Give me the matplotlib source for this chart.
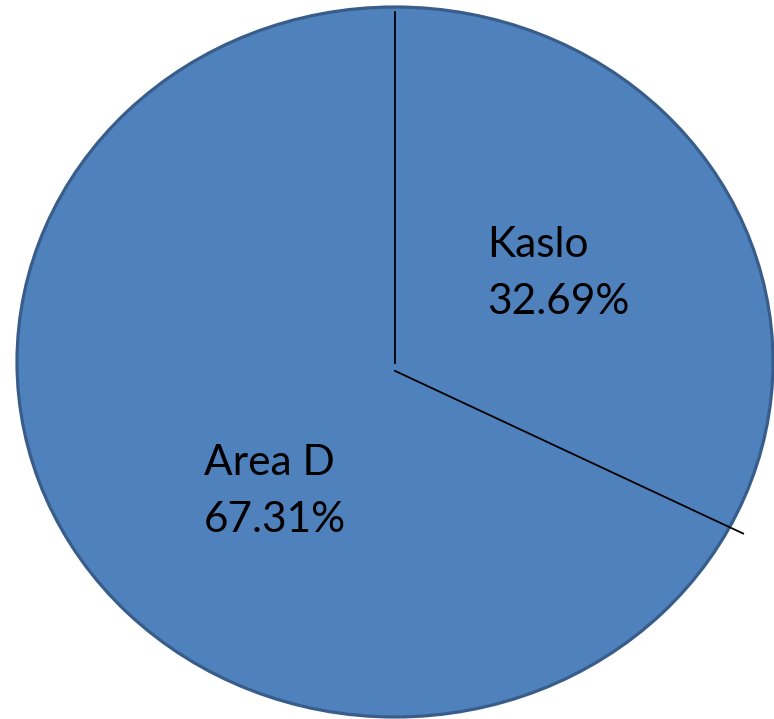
import numpy as np
import matplotlib
matplotlib.use("Agg")
import matplotlib.pyplot as plt
from matplotlib.patches import Ellipse

labels = ["Kaslo", "Area D"]
shares = [32.69, 67.31]
fill_colour = "#4F81BD"
edge_colour = "#385D8A"

plt.rcParams["font.family"] = ["Lato", "DejaVu Sans"]

W, H = 774, 719
fig = plt.figure(figsize=(W / 100, H / 100), dpi=100)
ax = fig.add_axes([0, 0, 1, 1])

# pie centre / radii in pixels (the pie is slightly squashed)
cx, cy, rx, ry = 395, 362, 378, 355

ax.pie(shares, colors=[fill_colour] * len(shares), startangle=90,
       counterclock=False, radius=1,
       wedgeprops=dict(linewidth=1.0, edgecolor=fill_colour))
ax.set_aspect("auto")
ax.set_xlim(-cx / rx, (W - cx) / rx)
ax.set_ylim(-(H - cy) / ry, cy / ry)
ax.axis("off")

# outer outline
ax.add_patch(Ellipse((0, 0), 2, 2, fill=False, edgecolor=edge_colour,
                     linewidth=2.3, zorder=3))

# black divider lines at the slice boundaries
ax.plot([0, 0], [-0.003, 0.985], color="black", linewidth=1.3, zorder=4)
ang = np.deg2rad(90 - shares[0] / 100 * 360)
ax.plot([0, 1.04 * np.cos(ang)], [-0.025, 1.04 * np.sin(ang)],
        color="black", linewidth=1.3, zorder=4)

# labels (pixel positions of first-line baselines)
label_pos = {"Kaslo": (487, 257), "Area D": (204, 475)}
for lab, val in zip(labels, shares):
    px, py = label_pos[lab]
    x = (px - cx) / rx
    for k, line in enumerate([lab, f"{val:.2f}%"]):
        y = (cy - (py + k * 57)) / ry
        ax.text(x, y, line, fontsize=30.5, ha="left", va="baseline",
                color="black", zorder=5)

fig.savefig("out.png", dpi=100)
